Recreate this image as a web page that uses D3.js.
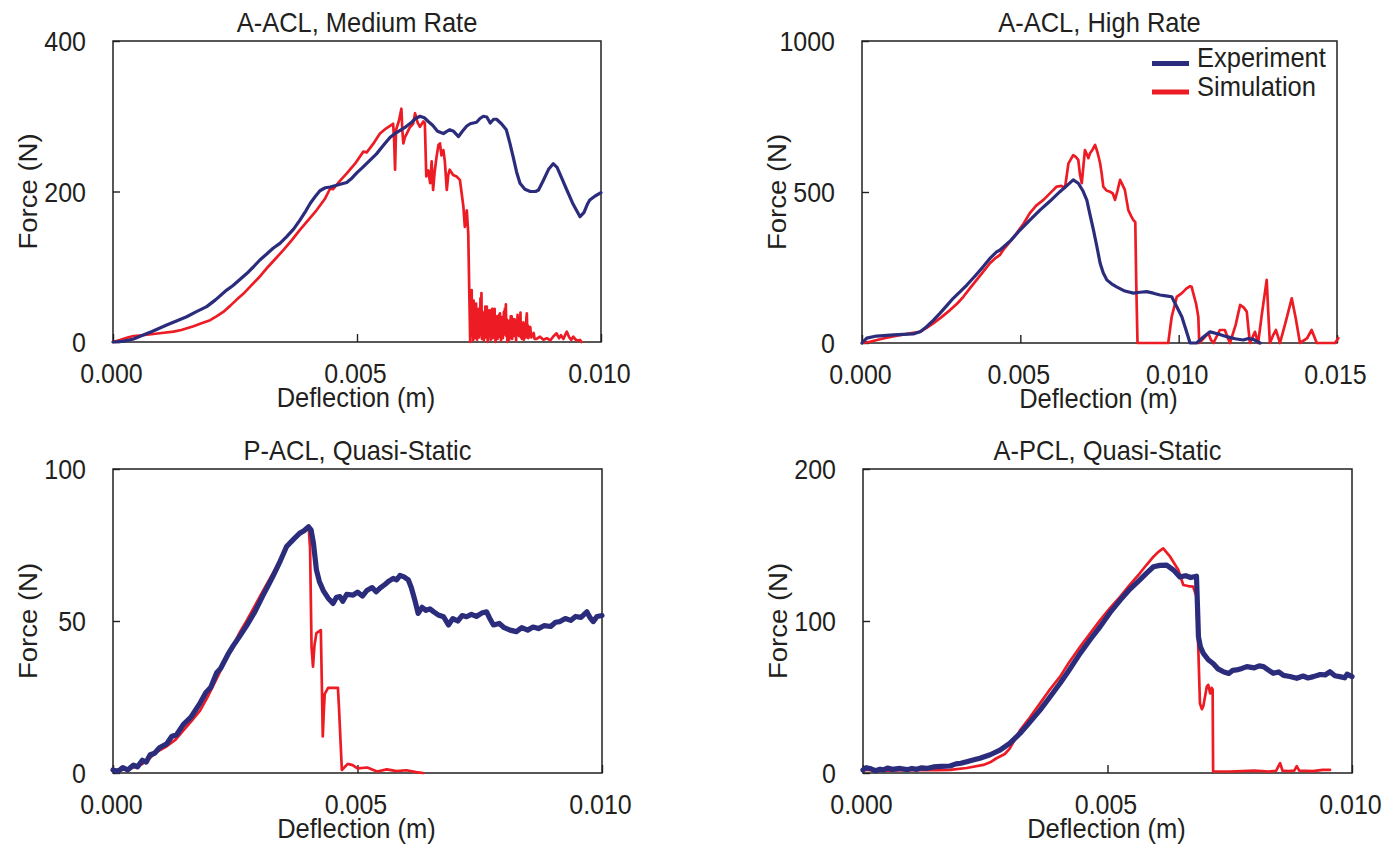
<!DOCTYPE html>
<html>
<head>
<meta charset="utf-8">
<script src="https://cdn.jsdelivr.net/npm/d3@7"></script>
<style>
  html, body { margin: 0; padding: 0; background: #fff; }
  svg { display: block; }
  text { font-family: "Liberation Sans", Arial, Helvetica, sans-serif; fill: #231f20; }
</style>
</head>
<body>
<svg id="chart" width="1382" height="844"></svg>
<script>
// ---------- data: [deflection (m), force (N)] ----------
const mediumExperiment = [
  [0,0],[0.0002,0.9],[0.00042,4],[0.00062,9.3],[0.0008,14],[0.0011,22.6],[0.0013,28],[0.00151,33.6],
  [0.0017,40],[0.00192,47],[0.0021,56],[0.00233,69],[0.00246,75],[0.0026,83],[0.00274,91],[0.00288,100],
  [0.00301,109],[0.00315,117],[0.00328,124.5],[0.00342,131],[0.00356,140],[0.0037,150],[0.00383,162],
  [0.00395,174],[0.00404,184],[0.00414,193],[0.00424,201],[0.00435,205],[0.00445,206],[0.00462,209],
  [0.00479,212],[0.0049,218],[0.005,225],[0.0051,231],[0.0052,237.5],[0.0054,250],[0.00555,262],
  [0.00568,272],[0.0058,278],[0.0059,282],[0.006,286],[0.00612,292],[0.0062,297],[0.00629,300],
  [0.00638,298],[0.00646,293],[0.00655,288],[0.00665,280],[0.00677,277],[0.00684,280],[0.0069,282],
  [0.00698,280],[0.00708,273],[0.00716,280],[0.00725,287],[0.00732,290],[0.00745,292],[0.00752,297],
  [0.00759,300],[0.00766,299],[0.00773,291],[0.0078,296],[0.00786,296],[0.00796,290],[0.00806,282],
  [0.00813,265],[0.0082,246],[0.00827,226],[0.00834,211],[0.00844,203],[0.00855,200],[0.00866,200],
  [0.00872,202],[0.00882,215],[0.00893,230],[0.00902,237],[0.0091,232],[0.0092,217],[0.0093,202],
  [0.00943,183],[0.00957,166.5],[0.00965,172],[0.00972,183],[0.00977,188.7],[0.00988,194],[0.01,198.4]
];
const mediumSimulation = [
  [0,0],[0.00014,2.6],[0.0003,6],[0.00042,8],[0.0006,9],[0.00083,10.6],[0.001,12],[0.00124,13.7],
  [0.0014,16],[0.00165,21],[0.0018,24.5],[0.00199,29],[0.00212,34],[0.00226,40],[0.0024,48],[0.00253,56],
  [0.00267,64],[0.00281,73.5],[0.00298,85],[0.00315,98],[0.00332,110],[0.00349,122],[0.00366,135],
  [0.00383,149],[0.004,162],[0.00417,175],[0.00434,190],[0.00445,204],[0.00451,203],[0.00465,214],
  [0.00479,224],[0.00496,237],[0.00513,253],[0.0052,252],[0.00535,265],[0.00547,277],[0.0056,284],
  [0.00574,290],[0.00576,270],[0.00578,229],[0.0058,282],[0.00586,294],[0.00591,310],[0.00593,280],
  [0.00595,264],[0.00598,272],[0.00602,277],[0.00608,285],[0.00615,290],[0.00619,304],[0.00624,292],
  [0.00629,286],[0.00636,293],[0.00639,291],[0.00642,220],[0.00646,228],[0.0065,211],[0.00653,240],
  [0.00656,202],[0.00659,225],[0.00663,246],[0.00667,262],[0.0067,264],[0.00673,248],[0.00677,255],
  [0.0068,240],[0.00684,202],[0.00687,222],[0.0069,229],[0.00697,222],[0.00704,220],[0.00711,215],
  [0.00714,200],[0.00718,180],[0.00721,153],[0.00725,175],[0.00728,144],[0.0073,69],[0.00732,0],
  [0.00733,60],[0.00734,12],[0.00735,69],[0.00736,8],[0.00737,48],[0.00738,2],[0.00739,55],[0.0074,18],
  [0.00741,5],[0.00742,42],[0.00743,10],[0.00744,51],[0.00745,22],[0.00746,3],[0.00747,36],[0.00748,14],
  [0.00749,44],[0.0075,6],[0.00751,30],[0.00752,10],[0.00753,58],[0.00754,20],[0.00755,65],[0.00756,4],
  [0.00757,40],[0.00758,12],[0.00759,38],[0.0076,2],[0.00761,33],[0.00762,15],[0.00763,47],[0.00764,6],
  [0.00765,28],[0.00766,47],[0.00767,10],[0.00768,0],[0.00769,35],[0.0077,18],[0.00771,42],[0.00772,8],
  [0.00773,30],[0.00774,3],[0.00775,42],[0.00776,20],[0.00777,44],[0.00778,5],[0.00779,26],[0.0078,12],
  [0.00781,40],[0.00782,44],[0.00783,9],[0.00784,0],[0.00785,30],[0.00786,16],[0.00787,34],[0.00788,4],
  [0.00789,24],[0.0079,12],[0.00791,36],[0.00792,7],[0.00793,38],[0.00794,18],[0.00795,2],[0.00796,28],
  [0.00797,10],[0.00798,33],[0.00799,5],[0.008,22],[0.00801,40],[0.00802,10],[0.00803,44],[0.00804,14],
  [0.00805,50],[0.00806,8],[0.00807,30],[0.00808,0],[0.00809,26],[0.0081,12],[0.00811,28],[0.00812,3],
  [0.00813,22],[0.00814,6],[0.00815,34],[0.00816,15],[0.00817,34],[0.00818,4],[0.00819,20],[0.0082,14],
  [0.00821,30],[0.00822,8],[0.00823,30],[0.00824,12],[0.00825,24],[0.00826,2],[0.00827,28],[0.00828,10],
  [0.00829,36],[0.0083,16],[0.00831,22],[0.00832,8],[0.00833,30],[0.00834,14],[0.00835,39],[0.00836,6],
  [0.00837,20],[0.00838,4],[0.00839,18],[0.0084,9],[0.00841,26],[0.00842,3],[0.00843,16],[0.00844,10],
  [0.00845,24],[0.00846,6],[0.00847,30],[0.00848,38],[0.00849,12],[0.0085,22],[0.00851,5],[0.00853,16],
  [0.00855,20],[0.00857,6],[0.00859,8],[0.00862,12],[0.00864,4],[0.00868,4],[0.00875,7],[0.00882,3],
  [0.00889,5],[0.00896,2],[0.00903,8],[0.00909,11.5],[0.00914,5],[0.00918,9],[0.00923,4],[0.00927,10],
  [0.0093,13.7],[0.00935,6],[0.00939,3],[0.00943,7],[0.0095,2],[0.00957,2.7],[0.0096,0]
];
const highExperiment = [
  [0,0],[0.00015,16],[0.00046,23],[0.001,27],[0.00162,30],[0.00185,38],[0.00204,54],[0.00225,75],
  [0.00246,98],[0.00267,123],[0.00288,148],[0.0031,170],[0.00331,192],[0.00357,222],[0.00383,253],
  [0.00404,280],[0.00425,302],[0.00436,308],[0.0047,340],[0.00499,374],[0.0053,407],[0.00562,440],
  [0.00594,470],[0.00625,501],[0.00648,522],[0.00667,540],[0.00683,529],[0.00697,505],[0.0071,473],
  [0.0072,425],[0.00731,374],[0.00742,318],[0.00752,264],[0.00762,232],[0.00773,209],[0.00788,196],
  [0.00804,186],[0.0083,172],[0.00857,165],[0.00878,168],[0.00899,170],[0.0092,165],[0.00941,159],
  [0.0096,156],[0.00978,153],[0.00994,120],[0.0101,87],[0.01023,44],[0.01036,0],[0.01057,0],
  [0.01078,20],[0.01099,37],[0.01125,30],[0.01152,21],[0.01178,14],[0.01204,10],[0.0122,15],
  [0.01236,12],[0.01257,0]
];
const highSimulation = [
  [0,0],[0.00025,4],[0.00067,15],[0.0011,24],[0.00152,32],[0.00183,37],[0.00204,50],[0.00225,65],
  [0.0025,85],[0.00278,109],[0.003,130],[0.0032,153],[0.0034,180],[0.00362,209],[0.00383,236],
  [0.00404,264],[0.0042,280],[0.00436,292],[0.00446,308],[0.00467,335],[0.00488,363],[0.0051,395],
  [0.0053,430],[0.0055,455],[0.00573,474],[0.00595,497],[0.00615,518],[0.0063,520],[0.00641,514],
  [0.00652,595],[0.00667,622],[0.00675,616],[0.00683,606],[0.00688,560],[0.00694,529],[0.00704,639],
  [0.0071,625],[0.00715,612],[0.0072,628],[0.00728,640],[0.00736,656],[0.00744,630],[0.00752,595],
  [0.00757,560],[0.00762,518],[0.00772,505],[0.00783,501],[0.00792,495],[0.00799,474],[0.00807,505],
  [0.00815,540],[0.00822,525],[0.0083,507],[0.00841,440],[0.0085,420],[0.00857,407],[0.00863,400],
  [0.00866,200],[0.0087,0],[0.00967,0],[0.00978,87],[0.00994,153],[0.0101,165],[0.01025,181],
  [0.01036,188],[0.01041,186],[0.01046,165],[0.01055,130],[0.01062,87],[0.01065,0],[0.01094,32],
  [0.01102,10],[0.0111,0],[0.0113,43],[0.01146,43],[0.01154,20],[0.01162,0],[0.0118,60],[0.01194,126],
  [0.01205,118],[0.01215,104],[0.0122,50],[0.01225,0],[0.01241,37],[0.01251,0],[0.01262,90],
  [0.01278,209],[0.01283,100],[0.01288,0],[0.01298,25],[0.01307,43],[0.01314,20],[0.0132,0],
  [0.01338,70],[0.01357,148],[0.0137,80],[0.01383,0],[0.01405,15],[0.0142,43],[0.01436,0],
  [0.01494,0],[0.01504,16]
];
const pAclExperiment = [
  [0,1],[0.0001,0.5],[0.0002,1.8],[0.0003,1],[0.00042,2.6],[0.0005,2],[0.0006,4.2],[0.00068,3.6],
  [0.00076,6],[0.00085,6.5],[0.00095,8.3],[0.0011,9.6],[0.0012,12],[0.0013,12.6],[0.00144,16],
  [0.0016,18.5],[0.00178,23],[0.0019,26.5],[0.002,28.2],[0.00212,33],[0.0022,34.4],[0.00235,39],
  [0.00246,41.9],[0.0026,45.2],[0.00273,48.4],[0.0029,53],[0.00307,58.5],[0.0032,62.5],[0.00328,65],
  [0.0034,69],[0.00355,74.5],[0.0037,77],[0.00382,78.9],[0.0039,79.6],[0.004,81],[0.00405,80],
  [0.0041,75.5],[0.00416,66.8],[0.00422,63],[0.0043,60],[0.0044,57.5],[0.0045,55.8],[0.00457,57.8],
  [0.00464,58],[0.0047,56.5],[0.00478,58.8],[0.00491,58.5],[0.005,59.5],[0.0051,58.2],[0.00519,60],
  [0.0053,61],[0.00538,59.6],[0.00546,60.8],[0.00556,62],[0.00565,63.2],[0.00573,64],[0.0058,63.5],
  [0.00587,65],[0.00595,64.5],[0.00604,63.5],[0.0061,61],[0.00617,57],[0.00624,52.5],[0.00632,54.5],
  [0.0064,53.5],[0.00648,54],[0.00656,53],[0.00665,52],[0.00676,51.4],[0.00686,48.7],[0.00695,50.8],
  [0.00705,50],[0.00714,51.8],[0.00723,51.4],[0.00733,52.2],[0.00743,51.5],[0.00754,52.6],[0.00764,53],
  [0.0077,51],[0.00778,48.7],[0.0079,49.2],[0.008,47.8],[0.00812,47],[0.00825,46.5],[0.00836,47.8],
  [0.00848,47],[0.00859,48],[0.0087,47.5],[0.00882,48.5],[0.00895,48.2],[0.00905,49.6],[0.00914,49.8],
  [0.00925,50.8],[0.00936,50.2],[0.00946,51.5],[0.00957,51.2],[0.00969,53],[0.00976,51],[0.00982,49.8],
  [0.0099,51.5],[0.01,51.8]
];
const pAclSimulation = [
  [0,1],[0.0002,1],[0.00042,1.8],[0.0006,3],[0.00076,5],[0.0009,7],[0.0011,8.8],[0.00128,11],
  [0.00144,14],[0.0016,17],[0.00178,20.5],[0.00195,25.5],[0.00212,31],[0.0023,37],[0.00246,42],
  [0.0026,46.5],[0.00273,50],[0.0029,55],[0.00307,60],[0.00328,66],[0.00355,74],[0.0038,79],[0.004,81],
  [0.00403,74],[0.00406,41.5],[0.00409,35],[0.00412,42],[0.00416,46],[0.00425,47],[0.00427,30],
  [0.00429,12],[0.00431,20],[0.00433,26],[0.0044,28],[0.0046,28],[0.00462,22],[0.00464,15],[0.00468,1],
  [0.0048,3],[0.0049,2.6],[0.005,1.5],[0.0052,1.8],[0.0054,0.5],[0.0056,1.2],[0.0058,0.6],[0.006,0.9],
  [0.0062,0.3],[0.00634,0]
];
const aPclExperiment = [
  [0,2],[0.00007,3.5],[0.00014,3],[0.00025,1.5],[0.00035,2.5],[0.00042,2],[0.0005,3.2],[0.0006,2.4],
  [0.00076,3],[0.0009,2.2],[0.001,3],[0.0011,2.4],[0.0012,3.4],[0.0013,3],[0.00144,4],[0.0016,4.4],
  [0.00178,4.6],[0.0019,6],[0.002,6.4],[0.00212,7.4],[0.00225,8.5],[0.00239,9.7],[0.0026,12],[0.0028,15],
  [0.003,19.5],[0.00321,26],[0.0034,33],[0.00362,41.4],[0.0038,49],[0.00403,59],[0.0042,67],
  [0.00444,78.7],[0.00465,88],[0.00485,96.3],[0.00505,105.5],[0.00526,113.8],[0.00546,121],[0.00566,127],
  [0.0058,131.5],[0.00594,135.7],[0.00607,136.6],[0.00621,136.8],[0.00635,133.5],[0.00648,129],
  [0.0066,129.8],[0.0067,128.6],[0.00682,129.5],[0.00684,110],[0.00686,89.7],[0.0069,83],[0.00696,78.7],
  [0.00706,74.5],[0.00716,72],[0.00726,68.5],[0.00737,66.6],[0.00748,65.5],[0.00756,67.5],[0.00764,67.8],
  [0.00775,68.8],[0.00785,70],[0.008,69.2],[0.0081,70.5],[0.00819,70],[0.0083,67.5],[0.00839,65.6],
  [0.0085,66.5],[0.0086,64.2],[0.00873,63.5],[0.00887,62.3],[0.009,63.8],[0.0091,62.5],[0.00921,63.4],
  [0.00935,64.8],[0.00945,64.5],[0.00955,66.6],[0.00965,64],[0.00975,63.4],[0.00985,62.6],[0.0099,65],
  [0.01,63.4]
];
const aPclSimulation = [
  [0,2],[0.0005,1.5],[0.001,2],[0.0015,1.8],[0.00178,2],[0.00212,3.3],[0.00246,5.3],[0.0026,7],
  [0.00273,9.7],[0.0029,12.5],[0.003,16],[0.00321,28],[0.0034,36],[0.00362,45.8],[0.0038,54],
  [0.00403,63.4],[0.0042,72],[0.00444,83],[0.00465,92],[0.00485,100.6],[0.00505,108.5],[0.00526,116],
  [0.00546,124],[0.00566,131.4],[0.0058,137],[0.00594,142.3],[0.00604,145.5],[0.00614,147.8],
  [0.00628,142.3],[0.00645,133.5],[0.00655,123.7],[0.00665,123],[0.00675,122.6],[0.00682,116],
  [0.00686,78.7],[0.00689,45.9],[0.00693,42],[0.00696,44],[0.00703,56.8],[0.00706,58],[0.0071,52.4],
  [0.00713,56],[0.00715,55],[0.00716,1],[0.0075,1],[0.008,1.5],[0.0083,1],[0.00845,1.5],[0.00853,6.5],
  [0.00858,1.5],[0.0087,1.2],[0.00882,1.5],[0.00887,4.5],[0.00892,1.5],[0.0092,1.2],[0.0094,2],
  [0.00955,2]
];

const panelTitles = ["A-ACL, Medium Rate", "A-ACL, High Rate", "P-ACL, Quasi-Static", "A-PCL, Quasi-Static"];
const deflectionTicks = [
  [0, 0.005, 0.010],
  [0, 0.005, 0.010, 0.015],
  [0, 0.005, 0.010],
  [0, 0.005, 0.010]
];
const forceTicks = [
  [0, 200, 400],
  [0, 500, 1000],
  [0, 50, 100],
  [0, 100, 200]
];
const seriesNames = ["Experiment", "Simulation"];
const seriesColors = ["#2b2d7c", "#ed1c24"];
const xAxisLabel = "Deflection (m)";
const yAxisLabel = "Force (N)";

// ---------- layout ----------
const STRETCH = 1.08;      // glyphs are drawn slightly tall
const TICK_FONT = 25;
const LABEL_FONT = 25.5;
const panels = [
  { exp: mediumExperiment, sim: mediumSimulation, box: { l: 113, r: 601, t: 41, b: 342 }, expW: 3.2, legend: false },
  { exp: highExperiment,   sim: highSimulation,   box: { l: 862, r: 1337, t: 41, b: 343 }, expW: 3.2, legend: true },
  { exp: pAclExperiment,   sim: pAclSimulation,   box: { l: 113, r: 602, t: 469, b: 773 }, expW: 5.2, legend: false },
  { exp: aPclExperiment,   sim: aPclSimulation,   box: { l: 863, r: 1352, t: 469, b: 773 }, expW: 5.2, legend: false }
];

const svg = d3.select("#chart");

function label(g, str, x, y, anchor, size, extra) {
  return g.append("text")
    .attr("text-anchor", anchor)
    .attr("font-size", size)
    .attr("transform", `translate(${x},${y}) scale(1,${STRETCH})${extra || ""}`)
    .text(str);
}

panels.forEach((p, i) => {
  const { l, r, t, b } = p.box;
  const xt = deflectionTicks[i], yt = forceTicks[i];
  const x = d3.scaleLinear().domain([xt[0], xt[xt.length - 1]]).range([l, r]);
  const y = d3.scaleLinear().domain([yt[0], yt[yt.length - 1]]).range([b, t]);
  const g = svg.append("g");

  // x axis: inward ticks, labels below
  const gx = g.append("g").attr("transform", `translate(0,${b})`)
    .call(d3.axisBottom(x).tickValues(xt).tickFormat(d3.format(".3f"))
      .tickSizeInner(-8).tickSizeOuter(0));
  gx.select(".domain").remove();
  gx.selectAll("line").attr("stroke", "#231f20").attr("stroke-width", 1.4);
  gx.selectAll("text").attr("y", 0).attr("dy", null).attr("fill", null)
    .attr("font-family", null).attr("font-size", TICK_FONT)
    .attr("transform", `translate(-2,41) scale(1,${STRETCH})`);

  // y axis: inward ticks, labels at left
  const gy = g.append("g").attr("transform", `translate(${l},0)`)
    .call(d3.axisLeft(y).tickValues(yt).tickFormat(d3.format("d"))
      .tickSizeInner(-7).tickSizeOuter(0).tickPadding(27));
  gy.select(".domain").remove();
  gy.selectAll("line").attr("stroke", "#231f20").attr("stroke-width", 1.4);
  gy.selectAll("text").attr("dy", null).attr("fill", null)
    .attr("font-family", null).attr("font-size", TICK_FONT)
    .attr("transform", `translate(0,9.5) scale(1,${STRETCH})`);

  // frame
  g.append("rect").attr("x", l).attr("y", t).attr("width", r - l).attr("height", b - t)
    .attr("fill", "none").attr("stroke", "#231f20").attr("stroke-width", 1.5);

  // curves: simulation underneath, experiment on top
  const line = d3.line().x(d => x(d[0])).y(d => y(d[1]));
  g.append("path").datum(p.sim).attr("d", line)
    .attr("fill", "none").attr("stroke", seriesColors[1]).attr("stroke-width", 2.7)
    .attr("stroke-linejoin", "round").attr("stroke-linecap", "round");
  g.append("path").datum(p.exp).attr("d", line)
    .attr("fill", "none").attr("stroke", seriesColors[0]).attr("stroke-width", p.expW)
    .attr("stroke-linejoin", "round").attr("stroke-linecap", "round");

  // titles and axis labels
  const cx = (l + r) / 2;
  label(g, panelTitles[i], cx, t - 9, "middle", LABEL_FONT);
  label(g, xAxisLabel, cx - 1, b + 65, "middle", LABEL_FONT);
  label(g, yAxisLabel, l - 76, (t + b) / 2, "middle", LABEL_FONT, " rotate(-90)");

  // legend
  if (p.legend) {
    seriesNames.forEach((name, k) => {
      const ly = t + 22.5 + k * 28.5;
      g.append("line").attr("x1", r - 185).attr("x2", r - 148).attr("y1", ly).attr("y2", ly)
        .attr("stroke", seriesColors[k]).attr("stroke-width", 5);
      label(g, name, r - 140, ly + 3.5, "start", LABEL_FONT);
    });
  }
});
</script>
</body>
</html>
